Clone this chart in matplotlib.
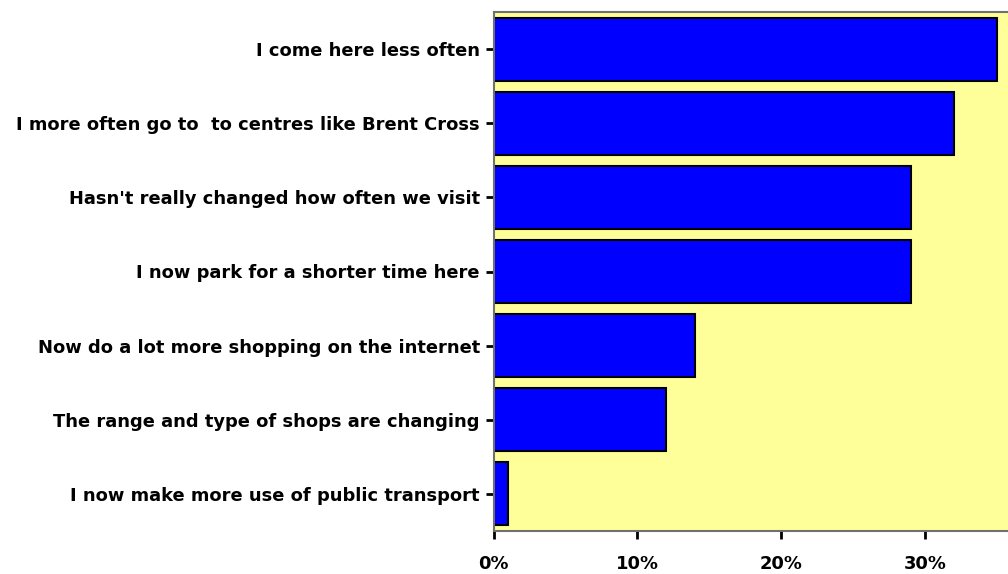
import matplotlib
matplotlib.use("Agg")
import matplotlib.pyplot as plt
from matplotlib.ticker import FuncFormatter

categories = [
    "I come here less often",
    "I more often go to  to centres like Brent Cross",
    "Hasn't really changed how often we visit",
    "I now park for a shorter time here",
    "Now do a lot more shopping on the internet",
    "The range and type of shops are changing",
    "I now make more use of public transport",
]
values = [35, 32, 29, 29, 14, 12, 1]
xticks = [0, 10, 20, 30]

FONT = "DejaVu Sans"

fig = plt.figure(figsize=(10.08, 5.74), dpi=100)
ax = fig.add_axes([493.7 / 1008, 1 - 531 / 574, 1 - 493.7 / 1008, (531 - 12) / 574])
ax.set_facecolor("#FFFF99")

pos = list(range(len(categories)))
ax.barh(pos, values, height=0.85, color="#0000FF", edgecolor="black", linewidth=1.5)
ax.set_ylim(len(categories) - 0.5, -0.5)
ax.set_xlim(0, 35.77)

# fit label font so the longest label spans ~466 px like the reference
renderer = fig.canvas.get_renderer()
t = fig.text(0, 0, max(categories, key=len), fontsize=10, fontweight="bold", family=FONT)
w = t.get_window_extent(renderer).width
t.remove()
fs = 10 * 466 / w

ax.set_yticks(pos)
ax.set_yticklabels(categories, fontsize=fs, fontweight="bold", family=FONT)
ax.set_xticks(xticks)
ax.xaxis.set_major_formatter(FuncFormatter(lambda v, p: f"{int(v)}%"))
for lbl in ax.get_xticklabels():
    lbl.set_fontweight("bold")
    lbl.set_fontsize(fs)
    lbl.set_family(FONT)

ax.tick_params(axis="y", length=6, width=2, pad=4, color="black")
ax.tick_params(axis="x", length=6, width=2, pad=11, color="black")

for side in ["left", "bottom", "top"]:
    ax.spines[side].set_color("#707070")
    ax.spines[side].set_linewidth(1.5)
ax.spines["right"].set_visible(False)

fig.savefig("out.png", dpi=100)
